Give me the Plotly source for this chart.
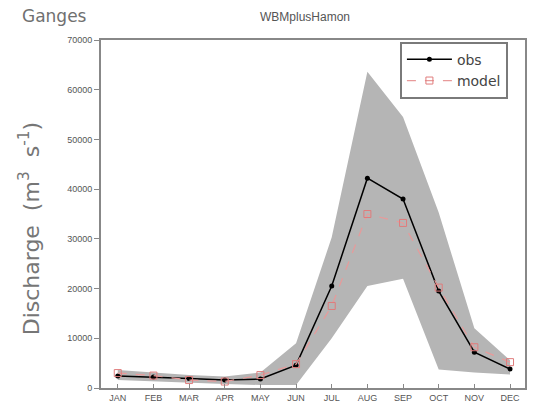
import plotly.graph_objects as go

months = ["JAN", "FEB", "MAR", "APR", "MAY", "JUN", "JUL", "AUG", "SEP", "OCT", "NOV", "DEC"]
obs = [2400, 2200, 1900, 1600, 1800, 4600, 20500, 42200, 38000, 19500, 7200, 3800]
model = [3000, 2500, 1600, 1300, 2600, 4800, 16500, 35000, 33200, 20200, 8200, 5200]
band_upper = [3600, 3100, 2600, 2300, 3100, 9000, 30300, 63600, 54500, 35300, 12000, 5600]
band_lower = [1600, 1300, 1000, 800, 600, 600, 10000, 20500, 22000, 3700, 3100, 2700]

x = list(range(len(months)))
font = "Liberation Sans, Arial, sans-serif"
wide = "DejaVu Sans, Verdana, sans-serif"

fig = go.Figure()

# spread envelope (grey band)
fig.add_trace(go.Scatter(x=x, y=band_lower, mode="lines", line=dict(width=0, color="#b5b5b5"),
                         showlegend=False, hoverinfo="skip"))
fig.add_trace(go.Scatter(x=x, y=band_upper, mode="lines", line=dict(width=0, color="#b5b5b5"),
                         fill="tonexty", fillcolor="#b5b5b5", showlegend=False, hoverinfo="skip"))

fig.add_trace(go.Scatter(x=x, y=obs, name="obs", mode="lines+markers",
                         line=dict(color="black", width=1.5),
                         marker=dict(symbol="circle", size=5, color="black")))
fig.add_trace(go.Scatter(x=x, y=model, name="model", mode="lines+markers",
                         line=dict(color="#e89a9a", width=1.2, dash="dash"),
                         marker=dict(symbol="square-open", size=7, color="#e07c7c", line=dict(width=1))))

fig.update_layout(
    width=539, height=415,
    margin=dict(l=101, r=12, t=40, b=23),
    paper_bgcolor="white", plot_bgcolor="white",
    font=dict(family=font, color="#555555"),
    showlegend=True,
    legend=dict(x=0.705, y=0.995, xanchor="left", yanchor="top", traceorder="normal",
                bgcolor="white", bordercolor="#7a7a7a", borderwidth=2,
                font=dict(size=14, color="#444444", family=wide), itemwidth=45,
                tracegroupgap=2),
    annotations=[
        dict(text="Ganges", xref="paper", yref="paper", x=-0.19, y=1.0, yshift=12,
             xanchor="left", yanchor="bottom", showarrow=False,
             font=dict(size=17, color="#707070", family=wide)),
        dict(text="WBMplusHamon", xref="paper", yref="paper", x=0.48, y=1.0, yshift=14,
             xanchor="center", yanchor="bottom", showarrow=False,
             font=dict(size=12, color="#555555", family=font)),
        # y-axis label
        dict(text="Discharge  (m<sup>3</sup>  s<sup>-1</sup>)", xref="paper", yref="paper",
             x=-0.169, y=0.457, xanchor="center", yanchor="middle", textangle=-90,
             showarrow=False, font=dict(size=22, color="#767676", family=wide)),
    ],
)

fig.update_xaxes(
    range=[-0.47, 11.42], tickmode="array", tickvals=x, ticktext=months,
    ticks="inside", ticklen=4, tickcolor="#888888",
    tickfont=dict(size=9, color="#555555"),
    showline=True, linecolor="#888888", linewidth=2, mirror=True,
    showgrid=False, zeroline=False,
)
fig.update_yaxes(
    range=[0, 70000], tickmode="array", tickvals=list(range(0, 70001, 10000)),
    ticktext=[str(v) for v in range(0, 70001, 10000)],
    ticks="outside", ticklen=5, tickcolor="#888888",
    tickfont=dict(size=9, color="#555555"),
    showline=True, linecolor="#888888", linewidth=2, mirror=True,
    showgrid=False, zeroline=False,
)

fig.write_html("out.html")
